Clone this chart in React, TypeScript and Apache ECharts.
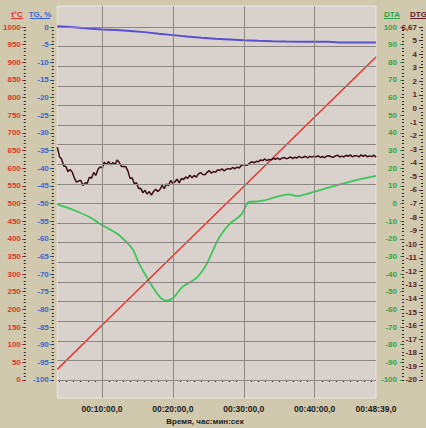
import React, { useEffect, useRef } from "react";
import * as echarts from "echarts";

// Time axis, minutes from the start of the run
const timeMin = 3.7;
const timeMax = 48.65; // 00:48:39,0
const timeLabelMinutes = [10, 20, 30, 40, 48.65];
const timeGridMinutes = [10, 20, 30, 40];

// Tick labels of the four vertical scales
const tempTicks = [0, 50, 100, 150, 200, 250, 300, 350, 400, 450, 500, 550, 600, 650, 700, 750, 800, 850, 900, 950, 1000];
const tgTicks = [-100, -95, -90, -85, -80, -75, -70, -65, -60, -55, -50, -45, -40, -35, -30, -25, -20, -15, -10, -5, 0];
const dtaTicks = [-100, -90, -80, -70, -60, -50, -40, -30, -20, -10, 0, 10, 20, 30, 40, 50, 60, 70, 80, 90, 100];
const dtgTicks = [-20, -19, -18, -17, -16, -15, -14, -13, -12, -11, -10, -9, -8, -7, -6, -5, -4, -3, -2, -1, 0, 1, 2, 3, 4, 5, 6];
const dtgTopLabel = "6,67";

// Temperature, °C
const tempTime = [3.7, 10, 20, 30, 40, 48.65];
const tempValues = [30, 155, 352, 548, 745, 915];

// TG, %
const tgTime = [3.7, 6, 8, 10, 12, 14, 16, 18, 20, 22, 24, 26, 28, 30, 32, 34, 36, 38, 40, 42, 43.5, 46, 48.65];
const tgValues = [0.2, -0.1, -0.4, -0.7, -0.85, -1.1, -1.45, -1.9, -2.3, -2.7, -3.05, -3.35, -3.55, -3.75, -3.92, -4.05, -4.12, -4.15, -4.17, -4.2, -4.38, -4.4, -4.42];

// DTA
const dtaTime = [3.7, 6, 8.3, 10, 12, 13.4, 14.4, 15.1, 16.6, 18.1, 19.1, 20, 21.4, 23.3, 24.7, 25.9, 26.6, 28, 29.6, 30.8, 31.3, 32.7, 36.4, 37.4, 40, 44.9, 48.65];
const dtaValues = [-0.5, -3.7, -7.8, -12.2, -16.7, -21.6, -26.3, -32.9, -43.7, -52.7, -55, -53.7, -47.1, -42.3, -34.8, -24.4, -18.8, -11.6, -6.5, 1, 1, 1.6, 5.2, 4.2, 6.7, 12.3, 15.6];

// DTG, sampled at a fixed step
const dtgStart = 3.7;
const dtgStep = 0.3017;
const dtgValues = [
  -2.85, -3.55, -3.72, -4.24, -4.27, -4.65, -4.5, -4.69, -5.13, -5.42,
  -5.33, -5.3, -5.67, -5.48, -5.5, -5.06, -5.14, -4.71, -4.93, -4.5,
  -4.3, -4.38, -3.96, -4.14, -3.91, -4.15, -3.98, -4.12, -3.8, -3.98,
  -4.27, -4.28, -4.29, -4.6, -5.15, -5.12, -5.54, -5.47, -5.9, -5.88,
  -6.2, -6.03, -6.31, -6.12, -6.39, -6.11, -5.95, -6.11, -5.97, -5.67,
  -5.91, -5.57, -5.68, -5.3, -5.52, -5.39, -5.21, -5.48, -5.16, -5.23,
  -5.05, -5.14, -4.91, -5.11, -4.93, -5.06, -4.82, -4.72, -4.86, -4.89,
  -4.71, -4.58, -4.77, -4.64, -4.69, -4.52, -4.57, -4.44, -4.61, -4.47,
  -4.43, -4.47, -4.35, -4.44, -4.32, -4.38, -4.21, -4.14, -4.18, -4.17,
  -4.02, -3.92, -4.0, -3.89, -3.93, -3.79, -3.84, -3.72, -3.85, -3.75,
  -3.79, -3.67, -3.74, -3.65, -3.77, -3.66, -3.61, -3.7, -3.66, -3.57,
  -3.69, -3.59, -3.66, -3.52, -3.63, -3.59, -3.52, -3.65, -3.53, -3.58,
  -3.51, -3.57, -3.48, -3.61, -3.54, -3.62, -3.5, -3.48, -3.56, -3.6,
  -3.5, -3.44, -3.57, -3.51, -3.57, -3.45, -3.52, -3.42, -3.57, -3.48,
  -3.48, -3.57, -3.42, -3.52, -3.44, -3.56, -3.49, -3.55, -3.44, -3.58,
];

const FONT = "Liberation Sans, Arial, sans-serif";
const RED = "#e0352b";
const BLUE = "#3a66d2";
const GREEN = "#2ea64a";
const BROWN = "#5c2226";
const TICK_DARK = "#2c2a28";

const pairs = (xs: number[], ys: number[]) => xs.map((x, i) => [x, ys[i]]);

const fmtTime = (m: number) => {
  const total = Math.round(m * 60);
  const mm = Math.floor(total / 60);
  const ss = total % 60;
  return `00:${String(mm).padStart(2, "0")}:${String(ss).padStart(2, "0")},0`;
};

const range = (from: number, to: number, step: number) => {
  const out: number[] = [];
  for (let v = from; v <= to + 1e-9; v += step) out.push(Math.round(v * 1000) / 1000);
  return out;
};

type AxisSpec = {
  position: "left" | "right";
  offset: number;
  min: number;
  max: number;
  ticks: number[];
  minor: number[];
  color: string;
  inside: boolean;
  margin: number;
  formatter?: (v: number) => string;
};

// A labelled scale plus a twin that only carries its dotted minor ticks
const makeAxes = (a: AxisSpec) => [
  {
    type: "value",
    position: a.position,
    offset: a.offset,
    min: a.min,
    max: a.max,
    axisLine: { show: false },
    splitLine: { show: false },
    axisTick: {
      show: true,
      inside: a.inside,
      length: 4,
      customValues: a.ticks,
      lineStyle: { color: a.color, width: 1 },
    },
    axisLabel: {
      show: true,
      inside: a.inside,
      margin: a.margin,
      customValues: a.ticks,
      color: a.color,
      fontSize: 8,
      fontWeight: "bold",
      fontFamily: FONT,
      formatter: a.formatter ?? ((v: number) => String(v)),
    },
  },
  {
    type: "value",
    position: a.position,
    offset: a.offset,
    min: a.min,
    max: a.max,
    axisLine: { show: false },
    splitLine: { show: false },
    axisLabel: { show: false },
    axisTick: {
      show: true,
      inside: a.inside,
      length: 2,
      customValues: a.minor,
      lineStyle: { color: TICK_DARK, width: 1 },
    },
  },
];

export default function App() {
  const ref = useRef<HTMLDivElement>(null);

  useEffect(() => {
    document.body.style.margin = "0";
    if (!ref.current) return;
    const chart = echarts.init(ref.current, undefined, { renderer: "svg" });

    const hGrid = range(0, 18, 1).map((k) => (k * 1000) / 18);

    const yAxes = [
      ...makeAxes({
        position: "left", offset: 31.5, min: -51, max: 1059.5,
        ticks: tempTicks, minor: range(0, 1000, 10), color: RED, inside: false, margin: 5,
      }),
      ...makeAxes({
        position: "left", offset: 3.5, min: -105.1, max: 5.95,
        ticks: tgTicks, minor: range(-100, 0, 1), color: BLUE, inside: false, margin: 5,
      }),
      ...makeAxes({
        position: "right", offset: 28, min: -110.2, max: 111.9,
        ticks: dtaTicks, minor: range(-100, 100, 2), color: GREEN, inside: true, margin: 7,
      }),
      ...makeAxes({
        position: "right", offset: 47, min: -21.326, max: 7.547,
        ticks: dtgTicks, minor: range(-20, 6, 0.25), color: BROWN, inside: true, margin: 6,
        formatter: (v: number) => (v === 6 ? dtgTopLabel : String(v)),
      }),
    ];

    const dtgData = dtgValues.map((v, i) => [dtgStart + i * dtgStep, v]);

    chart.setOption({
      animation: false,
      backgroundColor: "#d0c9ae",
      grid: {
        left: 57, right: 50, top: 6, bottom: 30,
        show: true, backgroundColor: "#d9d1cb", borderColor: "#ebe6e1", borderWidth: 1,
      },
      xAxis: {
        type: "value",
        min: timeMin,
        max: timeMax,
        offset: 1.5,
        axisLine: { show: false },
        splitLine: { show: false },
        axisTick: {
          show: true,
          length: 2,
          customValues: range(4, 48, 1),
          lineStyle: { color: TICK_DARK, width: 1 },
        },
        axisLabel: {
          customValues: timeLabelMinutes,
          formatter: (v: number) => fmtTime(v),
          margin: 5,
          color: "#1c1c1c",
          fontSize: 8.5,
          fontWeight: "bold",
          fontFamily: FONT,
        },
      },
      yAxis: yAxes,
      series: [
        {
          type: "line",
          yAxisIndex: 0,
          data: [],
          z: 1,
          silent: true,
          markLine: {
            silent: true,
            symbol: ["none", "none"],
            label: { show: false },
            lineStyle: { color: "#8c8782", width: 1, type: "solid" },
            emphasis: { disabled: true },
            data: [
              ...timeGridMinutes.map((m) => ({ xAxis: m })),
              ...hGrid.map((v) => ({ yAxis: v })),
            ],
          },
        },
        {
          name: "TG",
          type: "line",
          yAxisIndex: 2,
          data: pairs(tgTime, tgValues),
          showSymbol: false,
          z: 3,
          lineStyle: { color: "#5a4fd2", width: 2 },
        },
        {
          name: "DTA",
          type: "line",
          yAxisIndex: 4,
          data: pairs(dtaTime, dtaValues),
          showSymbol: false,
          smooth: 0.3,
          z: 3,
          lineStyle: { color: "#3cc75a", width: 1.8 },
        },
        {
          name: "t",
          type: "line",
          yAxisIndex: 0,
          data: pairs(tempTime, tempValues),
          showSymbol: false,
          z: 4,
          lineStyle: { color: "#e8352b", width: 1.5 },
        },
        {
          name: "DTG",
          type: "line",
          yAxisIndex: 6,
          data: dtgData,
          showSymbol: false,
          z: 4,
          lineStyle: { color: "#3a0c14", width: 1.5 },
        },
      ],
      graphic: [
        { type: "text", x: 17, y: 14.5, style: { text: "t°C", fill: RED, font: `bold 8px ${FONT}`, align: "center", verticalAlign: "middle" } },
        { type: "line", shape: { x1: 11, y1: 18.5, x2: 23, y2: 18.5 }, style: { stroke: RED, lineWidth: 1 } },
        { type: "text", x: 40, y: 14.5, style: { text: "TG, %", fill: BLUE, font: `bold 8px ${FONT}`, align: "center", verticalAlign: "middle" } },
        { type: "line", shape: { x1: 30, y1: 18.5, x2: 50, y2: 18.5 }, style: { stroke: BLUE, lineWidth: 1 } },
        { type: "text", x: 392, y: 14.5, style: { text: "DTA", fill: GREEN, font: `bold 8px ${FONT}`, align: "center", verticalAlign: "middle" } },
        { type: "line", shape: { x1: 384, y1: 18.5, x2: 400, y2: 18.5 }, style: { stroke: GREEN, lineWidth: 1 } },
        { type: "text", x: 410, y: 14.5, style: { text: "DTG", fill: BROWN, font: `bold 8px ${FONT}`, align: "left", verticalAlign: "middle" } },
        { type: "line", shape: { x1: 410, y1: 18.5, x2: 428, y2: 18.5 }, style: { stroke: BROWN, lineWidth: 1 } },
        { type: "text", x: 205, y: 421.5, style: { text: "Время, час:мин:сек", fill: "#1c1c1c", font: `bold 8px ${FONT}`, align: "center", verticalAlign: "middle" } },
      ],
    });

    return () => chart.dispose();
  }, []);

  return <div ref={ref} style={{ width: 426, height: 428 }} />;
}
